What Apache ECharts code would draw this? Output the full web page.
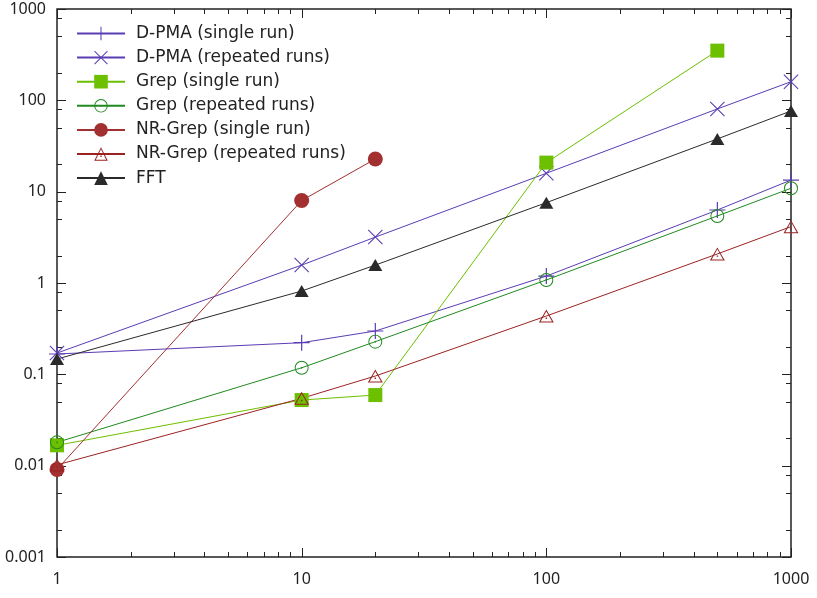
<!DOCTYPE html>
<html>
<head>
<meta charset="utf-8">
<script src="https://cdn.jsdelivr.net/npm/echarts@6/dist/echarts.min.js"></script>
<style>
html,body{margin:0;padding:0;background:#fff;}
#chart{width:817px;height:598px;}
</style>
</head>
<body>
<div id="chart"></div>
<script>
// ---- data ----
const xValues = [1, 10, 20, 100, 500, 1000];
const dpmaSingle   = [0.167, 0.222, 0.298, 1.19, 6.3, 13.4];
const dpmaRepeated = [0.171, 1.57, 3.18, 15.9, 80.5, 160];
const grepSingle   = [0.0167, 0.0523, 0.0593, 20.8, 350];
const grepRepeated = [0.018, 0.118, 0.228, 1.08, 5.42, 10.9];
const nrSingle     = [0.0091, 8.0, 22.8];
const nrRepeated   = [0.0102, 0.0546, 0.0958, 0.435, 2.08, 4.14];
const fft          = [0.147, 0.817, 1.57, 7.58, 37.8, 76.5];
const seriesNames = ['D-PMA (single run)', 'D-PMA (repeated runs)', 'Grep (single run)',
  'Grep (repeated runs)', 'NR-Grep (single run)', 'NR-Grep (repeated runs)', 'FFT'];
const xTickLabels = ['1', '10', '100', '1000'];
const yTickLabels = ['0.001', '0.01', '0.1', '1', '10', '100', '1000'];
const xMajorTicks = [1, 10, 100, 1000];
const xMinorTicks = [2,3,4,5,6,7,8,9,20,30,40,50,60,70,80,90,200,300,400,500,600,700,800,900];
const yMajorTicks = [0.001, 0.01, 0.1, 1, 10, 100, 1000];
const yMinorTicks = [0.002,0.005,0.008,0.02,0.05,0.08,0.2,0.5,0.8,2,5,8,20,50,80,200,500,800];

// ---- symbols ----
const SYM_PLUS = 'path://M9.25,0 L10.75,0 L10.75,20 L9.25,20 Z M0,9.25 L20,9.25 L20,10.75 L0,10.75 Z';
const SYM_X = 'path://M0,1 L1,0 L20,19 L19,20 Z M19,0 L20,1 L1,20 L0,19 Z';
const SYM_RING = 'path://M10,0 A10,10 0 1,1 10,20 A10,10 0 1,1 10,0 Z M10,1.4 A8.6,8.6 0 1,0 10,18.6 A8.6,8.6 0 1,0 10,1.4 Z M10,8.8 A1.2,1.2 0 1,1 10,11.2 A1.2,1.2 0 1,1 10,8.8 Z';
const SYM_OTRI = 'path://M10,0 L20,18 L0,18 Z M10,2.6 L2.4,16.6 L17.6,16.6 Z M9,11 L11,11 L11,13 L9,13 Z';

function pairs(ys) { return ys.map((y, i) => [xValues[i], y]); }

function lineSeries(name, ys, color, symbol, size) {
  return {
    name: name, type: 'line', data: pairs(ys), clip: false,
    symbol: symbol, symbolSize: size, showAllSymbol: true,
    lineStyle: { color: color, width: 1 },
    itemStyle: { color: color },
    emphasis: { disabled: true },
    z: 3
  };
}

const tickData = [];
xMajorTicks.forEach(v => tickData.push([v, 1, 0, 1]));
xMinorTicks.forEach(v => tickData.push([v, 1, 0, 0]));
yMajorTicks.forEach(v => tickData.push([1, v, 1, 1]));
yMinorTicks.forEach(v => tickData.push([1, v, 1, 0]));

function renderTick(params, api) {
  const cs = params.coordSys;
  const p = api.coord([api.value(0), api.value(1)]);
  const isY = api.value(2) === 1;
  const major = api.value(3) === 1;
  const len = major ? 9 : 5;
  const st = { stroke: '#222', lineWidth: 1 };
  if (!isY) {
    const x = Math.round(p[0]) + 0.5;
    return { type: 'group', children: [
      { type: 'line', shape: { x1: x, y1: cs.y + cs.height, x2: x, y2: cs.y + cs.height - len }, style: st },
      { type: 'line', shape: { x1: x, y1: cs.y, x2: x, y2: cs.y + len }, style: st }
    ]};
  } else {
    const y = Math.round(p[1]) + 0.5;
    return { type: 'group', children: [
      { type: 'line', shape: { x1: cs.x, y1: y, x2: cs.x + len, y2: y }, style: st },
      { type: 'line', shape: { x1: cs.x + cs.width, y1: y, x2: cs.x + cs.width - len, y2: y }, style: st }
    ]};
  }
}

const legendFont = '"DejaVu Sans", "Noto Sans", sans-serif';
const tickFont = '"Noto Sans", "DejaVu Sans", sans-serif';
const chart = echarts.init(document.getElementById('chart'));
chart.setOption({
  animation: false,
  backgroundColor: '#fff',
  textStyle: { fontFamily: tickFont },
  grid: { left: 57, right: 26, top: 9, bottom: 41, containLabel: false, outerBoundsMode: 'none',
    show: true, borderColor: '#222', borderWidth: 1.5, backgroundColor: 'transparent' },
  legend: {
    data: seriesNames,
    orient: 'vertical', left: 76, top: 25, padding: 0,
    itemWidth: 48, itemHeight: 17, itemGap: 7.1,
    textStyle: { fontFamily: legendFont, fontSize: 17, color: '#222', padding: [0, 0, 0, 6] },
    selectedMode: false
  },
  xAxis: {
    type: 'log', logBase: 10, min: 1, max: 1000, interval: 1,
    axisLine: { show: false }, axisTick: { show: false }, splitLine: { show: false },
    axisLabel: {
      margin: 14, fontSize: 16, color: '#222', fontFamily: tickFont,
      formatter: v => xTickLabels[Math.round(Math.log10(v))]
    }
  },
  yAxis: {
    type: 'log', logBase: 10, min: 0.001, max: 1000, interval: 1,
    axisLine: { show: false }, axisTick: { show: false }, splitLine: { show: false },
    axisLabel: {
      margin: 11, fontSize: 16, color: '#222', fontFamily: tickFont,
      formatter: v => yTickLabels[Math.round(Math.log10(v)) + 3]
    }
  },
  series: [
    { type: 'custom', name: 'ticks', data: tickData, renderItem: renderTick, silent: true, z: 1, clip: false },
    lineSeries(seriesNames[0], dpmaSingle, '#5a3cb4', SYM_PLUS, 16),
    lineSeries(seriesNames[1], dpmaRepeated, '#5a3cb4', SYM_X, 15),
    lineSeries(seriesNames[2], grepSingle, '#6cc000', 'rect', 14),
    lineSeries(seriesNames[3], grepRepeated, '#1f8a1f', SYM_RING, 14),
    lineSeries(seriesNames[4], nrSingle, '#a33030', 'circle', 15),
    lineSeries(seriesNames[5], nrRepeated, '#9c2222', SYM_OTRI, [15, 13]),
    lineSeries(seriesNames[6], fft, '#2a2a2a', 'triangle', [14, 12])
  ]
});
</script>
</body>
</html>
